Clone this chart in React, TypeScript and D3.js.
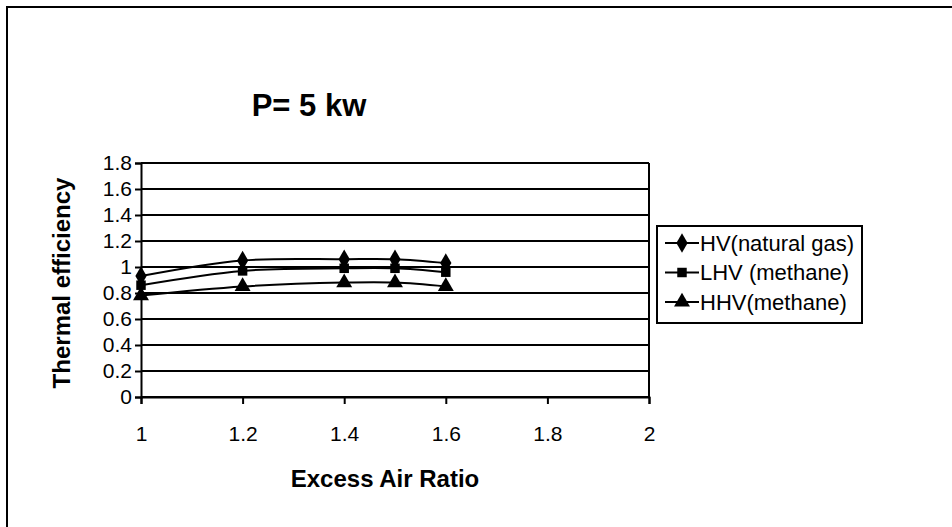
import React, { useRef, useEffect } from "react";
import * as d3 from "d3";

// data
const airRatio = [1, 1.2, 1.4, 1.5, 1.6];
const hvNaturalGas = [0.93, 1.05, 1.06, 1.06, 1.03];
const lhvMethane = [0.86, 0.97, 0.99, 0.99, 0.96];
const hhvMethane = [0.78, 0.85, 0.88, 0.88, 0.85];

const seriesNames = ["HV(natural gas)", "LHV (methane)", "HHV(methane)"];
const markerTypes = ["diamond", "square", "triangle"];

const xTicks = [1, 1.2, 1.4, 1.6, 1.8, 2];
const yTicks = [0, 0.2, 0.4, 0.6, 0.8, 1, 1.2, 1.4, 1.6, 1.8];

const W = 952;
const H = 527;
const FONT = "'Liberation Sans', Arial, sans-serif";

const App: React.FC = () => {
  const svgRef = useRef<SVGSVGElement | null>(null);

  useEffect(() => {
    if (!svgRef.current) return;
    const svg = d3.select(svgRef.current);
    svg.selectAll("*").remove();

    const plot = { left: 141, right: 649, top: 163, bottom: 397 };

    const x = d3.scaleLinear().domain([1, 2]).range([plot.left, plot.right]);
    const y = d3.scaleLinear().domain([0, 1.8]).range([plot.bottom, plot.top]);

    // outer chart border (right/bottom run off the picture)
    svg.append("rect")
      .attr("x", 7).attr("y", 7)
      .attr("width", W + 20).attr("height", H + 20)
      .attr("fill", "white")
      .attr("stroke", "black").attr("stroke-width", 2);

    // grid lines
    svg.append("g")
      .selectAll("line")
      .data(yTicks)
      .join("line")
      .attr("x1", plot.left).attr("x2", plot.right)
      .attr("y1", (d) => y(d)).attr("y2", (d) => y(d))
      .attr("stroke", "black").attr("stroke-width", 2);

    // plot area right edge
    svg.append("line")
      .attr("x1", plot.right).attr("x2", plot.right)
      .attr("y1", plot.top).attr("y2", plot.bottom)
      .attr("stroke", "black").attr("stroke-width", 2);

    // y axis
    const yAxis = svg.append("g")
      .attr("transform", `translate(${plot.left},0)`)
      .call(d3.axisLeft(y).tickValues(yTicks).tickSize(6).tickPadding(3).tickFormat((d) => String(+d)));
    yAxis.select(".domain").attr("stroke", "black").attr("stroke-width", 2);
    yAxis.selectAll(".tick line").attr("stroke", "black").attr("stroke-width", 2);
    yAxis.selectAll(".tick text")
      .attr("font-family", FONT).attr("font-size", 21).attr("fill", "black");

    // x axis
    const xAxis = svg.append("g")
      .attr("transform", `translate(0,${plot.bottom})`)
      .call(d3.axisBottom(x).tickValues(xTicks).tickSize(7).tickPadding(22).tickFormat((d) => String(+d)));
    xAxis.select(".domain").attr("stroke", "black").attr("stroke-width", 2);
    xAxis.selectAll(".tick line").attr("stroke", "black").attr("stroke-width", 2);
    xAxis.selectAll(".tick text")
      .attr("font-family", FONT).attr("font-size", 21).attr("fill", "black");

    // series
    const allSeries = [hvNaturalGas, lhvMethane, hhvMethane];
    const line = d3.line<number>()
      .x((_, i) => x(airRatio[i]))
      .y((d) => y(d))
      .curve(d3.curveCatmullRom);

    const symbolFor = (t: string) =>
      t === "diamond" ? d3.symbol(d3.symbolDiamond, 110)
        : t === "square" ? d3.symbol(d3.symbolSquare, 90)
        : d3.symbol(d3.symbolTriangle, 110);

    allSeries.forEach((vals, s) => {
      svg.append("path")
        .attr("d", line(vals))
        .attr("fill", "none")
        .attr("stroke", "black").attr("stroke-width", 2);
      svg.append("g")
        .selectAll("path")
        .data(vals)
        .join("path")
        .attr("transform", (d, i) => `translate(${x(airRatio[i])},${y(d)})`)
        .attr("d", symbolFor(markerTypes[s])()!)
        .attr("fill", "black");
    });

    // title
    svg.append("text")
      .attr("x", 309).attr("y", 116)
      .attr("text-anchor", "middle")
      .attr("font-family", FONT).attr("font-weight", "bold").attr("font-size", 31)
      .text("P= 5 kw");

    // axis titles
    svg.append("text")
      .attr("x", (plot.left + plot.right) / 2 - 10).attr("y", 487)
      .attr("text-anchor", "middle")
      .attr("font-family", FONT).attr("font-weight", "bold").attr("font-size", 24)
      .text("Excess Air Ratio");

    svg.append("text")
      .attr("transform", `translate(70,${(plot.top + plot.bottom) / 2 + 3}) rotate(-90)`)
      .attr("text-anchor", "middle")
      .attr("font-family", FONT).attr("font-weight", "bold").attr("font-size", 24)
      .text("Thermal efficiency");

    // legend
    const legend = { x: 657, y: 226, w: 205, h: 97 };
    svg.append("rect")
      .attr("x", legend.x).attr("y", legend.y)
      .attr("width", legend.w).attr("height", legend.h)
      .attr("fill", "white")
      .attr("stroke", "black").attr("stroke-width", 2);

    const rowY = d3.scalePoint<string>()
      .domain(seriesNames)
      .range([legend.y + 17, legend.y + legend.h - 21]);

    const items = svg.append("g")
      .selectAll("g")
      .data(seriesNames)
      .join("g")
      .attr("transform", (d) => `translate(${legend.x},${rowY(d)})`);

    items.append("line")
      .attr("x1", 8).attr("x2", 42)
      .attr("stroke", "black").attr("stroke-width", 2);
    items.append("path")
      .attr("transform", "translate(25,0)")
      .attr("d", (_, i) => symbolFor(markerTypes[i])()!)
      .attr("fill", "black");
    items.append("text")
      .attr("x", 43).attr("dy", "0.35em")
      .attr("font-family", FONT).attr("font-size", 22)
      .text((d) => d);
  }, []);

  return (
    <svg
      ref={svgRef}
      width={W}
      height={H}
      style={{ position: "absolute", left: 0, top: 0, background: "white" }}
    />
  );
};

export default App;
